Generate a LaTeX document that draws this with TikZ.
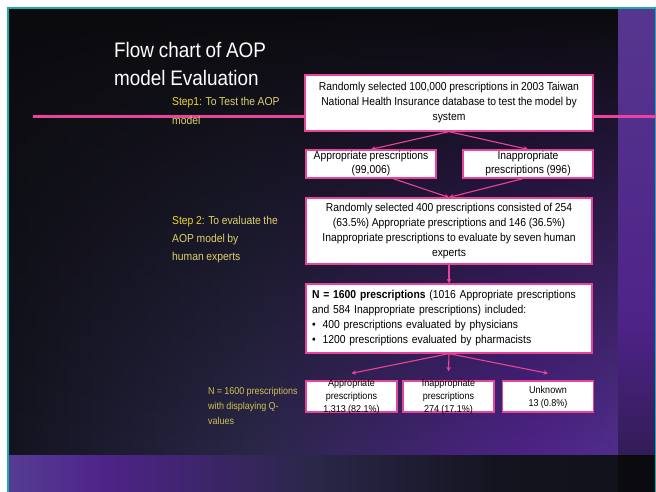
\documentclass[tikz,border=0pt]{standalone}
\usepackage{fontspec}
\setmainfont{Liberation Sans}[FakeStretch=0.9,WordSpace=0.9]
\usetikzlibrary{arrows.meta,fadings,calc}
\definecolor{tealc}{HTML}{1AACAC}
\definecolor{pinkc}{HTML}{E8449A}
\definecolor{bgdark}{HTML}{0B0B0E}
\definecolor{pa}{HTML}{5B4494}
\definecolor{pb}{HTML}{4E2388}
\definecolor{pc}{HTML}{553C93}
\definecolor{da}{HTML}{0B0B0F}
\definecolor{db}{HTML}{141420}
\definecolor{dc}{HTML}{2A2748}
\definecolor{dd}{HTML}{201838}
\definecolor{stepyel}{HTML}{EBD530}
\definecolor{descyel}{HTML}{DDD06A}
\definecolor{nyel}{HTML}{CFC252}
\pgfdeclarehorizontalshading{mainsh}{100bp}{color(0bp)=(da); color(25bp)=(db); color(45bp)=(dc); color(68bp)=(pb); color(85bp)=(pc); color(100bp)=(pa)}
\pgfdeclarehorizontalshading{bottomsh}{100bp}{color(0bp)=(pa); color(25bp)=(pc); color(33bp)=(pb); color(50bp)=(dc); color(65bp)=(db); color(100bp)=(da)}
\pgfdeclareverticalshading{rightsh}{100bp}{color(0bp)=(da); color(15bp)=(dd); color(40bp)=(pb); color(100bp)=(pa)}
\tikzfading[name=fadeup, top color=transparent!100, middle color=transparent!72, bottom color=transparent!0]
\tikzset{
  box/.style={draw=pinkc, line width=1.3pt, fill=white, inner sep=0pt, align=center,
    font=\fontsize{11.5}{15}\selectfont},
  smallbox/.style={draw=pinkc, line width=1.3pt, fill=white, inner sep=0pt,
    minimum width=91pt, minimum height=31pt},
  smalltxt/.style={inner sep=0pt, align=center, font=\fontsize{10}{13}\selectfont},
  arr/.style={draw=pinkc, line width=1.1pt, -{Stealth[length=4.5pt,width=4.5pt]}},
  yel/.style={inner sep=0pt, anchor=north west, align=left}
}
\begin{document}
\begin{tikzpicture}[x=1pt,y=-1pt]
\useasboundingbox (0,0) rectangle (656,492);
\fill[white] (0,0) rectangle (656,492);
% slide background
\fill[bgdark] (9,9) rectangle (618,455);
\shade[shading=mainsh, path fading=fadeup] (9,9) rectangle (618,455);
\shade[shading=bottomsh] (9,455) rectangle (618,492);
\shade[shading=rightsh] (618,9) rectangle (655,455);
\fill[da] (618,455) rectangle (655,492);
% teal frame
\draw[tealc, line width=2pt] (7,8) -- (656,8);
\draw[tealc, line width=2pt] (8,7) -- (8,492);
\draw[tealc, line width=1pt] (655.5,8) -- (655.5,492);
% pink rule
\draw[pinkc, line width=3pt] (33,117) -- (656,117);
% title
\node[inner sep=0pt, anchor=north west, align=left, text=white,
  font=\fontsize{21}{28}\selectfont] (title) at (114,42) {Flow chart of AOP\\model Evaluation};
% left labels
\node[yel, font=\fontsize{11.5}{19}\selectfont] (s1) at (172,97)
  {\textcolor{stepyel}{Step1:} \textcolor{descyel}{To Test the AOP}\\\textcolor{descyel}{model}};
\node[yel, font=\fontsize{11.5}{18}\selectfont] (s2) at (172,216)
  {\textcolor{stepyel}{Step 2:} \textcolor{descyel}{To evaluate the}\\\textcolor{descyel}{AOP model by}\\\textcolor{descyel}{human experts}};
\node[yel, text=nyel, font=\fontsize{10}{15}\selectfont] (s3) at (208,387)
  {N = 1600 prescriptions\\with displaying Q-\\values};
% boxes
\node[box, minimum width=288pt, minimum height=56pt] (b1) at (449,103)
  {Randomly selected 100,000 prescriptions in 2003 Taiwan\\National Health Insurance database to test the model by\\system};
\node[box, minimum width=130pt, minimum height=28pt, font=\fontsize{11.5}{14}\selectfont] (b2a) at (371,164)
  {Appropriate prescriptions\\(99,006)};
\node[box, minimum width=130pt, minimum height=28pt, font=\fontsize{11.5}{14}\selectfont] (b2b) at (528,164)
  {Inappropriate\\prescriptions (996)};
\node[box, minimum width=286pt, minimum height=66pt] (b3) at (449,231)
  {Randomly selected 400 prescriptions consisted of 254\\(63.5\%) Appropriate prescriptions and 146 (36.5\%)\\Inappropriate prescriptions to evaluate by seven human\\experts};
\node[box, minimum width=286pt, minimum height=69pt, align=left, text width=274pt,
  font=\fontsize{11.5}{15}\selectfont] (b4) at (449,318.5)
  {\textbf{N = 1600 prescriptions} (1016 Appropriate prescriptions\\and 584 Inappropriate prescriptions) included:\\•\hspace{7pt}400 prescriptions evaluated by physicians\\•\hspace{7pt}1200 prescriptions evaluated by pharmacists};
\node[smallbox] (c1) at (351.5,396.5) {};
\node[smallbox] (c2) at (448.5,396.5) {};
\node[smallbox] (c3) at (548,396.5) {};
\node[smalltxt] (t1) at (c1) {Appropriate\\prescriptions\\1,313 (82.1\%)};
\node[smalltxt] (t2) at (c2) {Inappropriate\\prescriptions\\274 (17.1\%)};
\node[smalltxt] (t3) at ($(c3)+(0,0.5)$) {Unknown\\13 (0.8\%)};
% connectors
\draw[arr] (b1.south) -- (b2a.north);
\draw[arr] (b1.south) -- (b2b.north);
\draw[arr] ($(b2a.south)+(22,0)$) -- (b3.north);
\draw[arr] ($(b2b.south)+(-5,0)$) -- (b3.north);
\draw[arr] (b3.south) -- (b4.north);
\coordinate (e1) at ($(c1.north)+(0,-7)$);
\coordinate (e2) at ($(c2.north)+(0,-9)$);
\coordinate (e3) at ($(c3.north)+(0,-7)$);
\draw[arr] (b4.south) -- (e1);
\draw[arr] (b4.south) -- (e2);
\draw[arr] (b4.south) -- (e3);
\end{tikzpicture}
\end{document}
